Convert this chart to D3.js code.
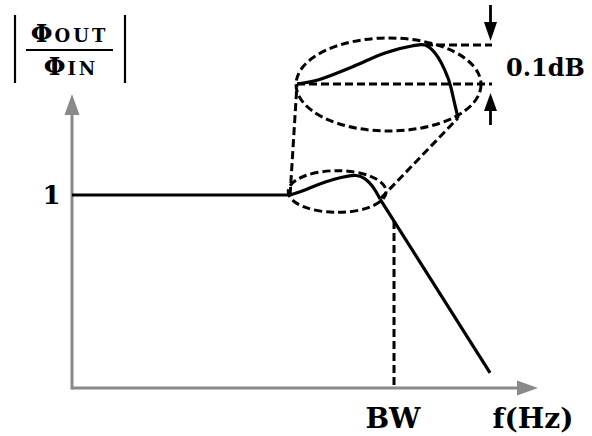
<!DOCTYPE html>
<html>
<head>
<meta charset="utf-8">
<script src="https://cdn.jsdelivr.net/npm/d3@7"></script>
<style>
  html, body { margin: 0; padding: 0; background: #fff; }
  svg { display: block; }
  text { font-family: "DejaVu Serif", serif; font-weight: bold; fill: #000; }
</style>
</head>
<body>
<svg id="chart" width="592" height="436"></svg>
<script>
// Magnitude response |Φout/Φin| of a low-pass system (normalised units)
const freq = [0, 4.70, 5.02, 5.34, 5.67, 5.95, 6.12, 6.29, 6.47, 6.64, 9.01];
const gain = [1.0, 1.0, 1.026, 1.057, 1.083, 1.098, 1.101, 1.088, 1.047, 0.979, 0.078];
const bumpStart = 1, bumpEnd = 9;   // passband ripple segment

// Magnified view of the ripple: position across the bump (0..1) and level in dB
const zoomPos = [0, 0.13, 0.342, 0.547, 0.714, 0.795, 0.857, 0.938, 0.981, 1.0];
const zoomDb  = [0, 0.0103, 0.0436, 0.0795, 0.0974, 0.1, 0.0795, 0.0154, -0.0538, -0.0872];
const zoomPeak = 5;

// Labels
const gainTick = 1;
const bwFreq = 6.94;
const rippleLabel = "0.1dB";

const svg = d3.select("#chart");
const ink = "#000";
const axisGrey = "#8a8a8a";

// Main scales
const x = d3.scaleLinear().domain([0, 10]).range([72, 536]);
const y = d3.scaleLinear().domain([0, 1.5]).range([388, 98.5]);
// Inset scales
const zx = d3.scaleLinear().domain([0, 1]).range([297, 458]);
const zy = d3.scaleLinear().domain([0, 0.1]).range([84, 45]);

const pts = freq.map((f, i) => [f, gain[i]]);
const zpts = zoomPos.map((p, i) => [p, zoomDb[i]]);

// Axes with arrow heads
const axes = svg.append("g");
axes.append("line").attr("x1", x(0)).attr("y1", y(0)).attr("x2", 520).attr("y2", y(0))
  .attr("stroke", axisGrey).attr("stroke-width", 3);
axes.append("line").attr("x1", x(0)).attr("y1", y(0) + 1.5).attr("x2", x(0)).attr("y2", 112)
  .attr("stroke", axisGrey).attr("stroke-width", 3);
axes.append("path").attr("d", `M538,${y(0)} L517,${y(0) - 7.5} L517,${y(0) + 7.5} Z`).attr("fill", axisGrey);
axes.append("path").attr("d", `M${x(0)},94 L${x(0) - 7.5},115 L${x(0) + 7.5},115 Z`).attr("fill", axisGrey);

const dashed = { stroke: ink, "stroke-width": 3, "stroke-dasharray": "8,4", fill: "none" };
function applyAttrs(sel, a) { Object.entries(a).forEach(([k, v]) => sel.attr(k, v)); return sel; }

// BW marker
const rollT = (bwFreq - freq[bumpEnd]) / (freq[10] - freq[bumpEnd]);
const bwGain = gain[bumpEnd] + rollT * (gain[10] - gain[bumpEnd]);
applyAttrs(svg.append("line"), dashed)
  .attr("x1", x(bwFreq)).attr("y1", y(bwGain)).attr("x2", x(bwFreq)).attr("y2", y(0) - 1.5);

// Ellipse around the ripple and its magnified copy
const smallE = { f: [4.66, 6.77], g: [0.910, 1.126] };
const bigE = { p: [-0.006, 1.143], d: [-0.1205, 0.118] };
applyAttrs(svg.append("ellipse"), dashed)
  .attr("cx", (x(smallE.f[0]) + x(smallE.f[1])) / 2)
  .attr("cy", (y(smallE.g[0]) + y(smallE.g[1])) / 2)
  .attr("rx", (x(smallE.f[1]) - x(smallE.f[0])) / 2)
  .attr("ry", (y(smallE.g[0]) - y(smallE.g[1])) / 2);
applyAttrs(svg.append("ellipse"), dashed)
  .attr("cx", (zx(bigE.p[0]) + zx(bigE.p[1])) / 2)
  .attr("cy", (zy(bigE.d[0]) + zy(bigE.d[1])) / 2)
  .attr("rx", (zx(bigE.p[1]) - zx(bigE.p[0])) / 2)
  .attr("ry", (zy(bigE.d[0]) - zy(bigE.d[1])) / 2);

// Connectors between the ripple and the inset
applyAttrs(svg.append("line"), dashed)
  .attr("x1", x(freq[bumpStart])).attr("y1", y(gain[bumpStart]))
  .attr("x2", zx(zoomPos[0])).attr("y2", zy(zoomDb[0]));
applyAttrs(svg.append("line"), dashed)
  .attr("x1", x(freq[bumpEnd]) + 1).attr("y1", y(gain[bumpEnd]) - 1)
  .attr("x2", zx(zoomPos[zoomPos.length - 1])).attr("y2", zy(zoomDb[zoomDb.length - 1]));

// 0.1 dB reference lines
const refX = 492;
applyAttrs(svg.append("line"), dashed)
  .attr("x1", zx(zoomPos[0])).attr("y1", zy(0)).attr("x2", refX).attr("y2", zy(0));
applyAttrs(svg.append("line"), dashed)
  .attr("x1", zx(zoomPos[zoomPeak])).attr("y1", zy(0.1)).attr("x2", refX).attr("y2", zy(0.1));

// Dimension arrows
const ax = 490.5;
svg.append("line").attr("x1", ax).attr("y1", 5).attr("x2", ax).attr("y2", 26)
  .attr("stroke", ink).attr("stroke-width", 2.8);
svg.append("path").attr("d", `M${ax},${zy(0.1) - 4} L${ax - 6.5},${zy(0.1) - 23} L${ax + 6.5},${zy(0.1) - 23} Z`).attr("fill", ink);
svg.append("line").attr("x1", ax).attr("y1", 106).attr("x2", ax).attr("y2", 125)
  .attr("stroke", ink).attr("stroke-width", 2.8);
svg.append("path").attr("d", `M${ax},${zy(0) + 9} L${ax - 6.5},${zy(0) + 27} L${ax + 6.5},${zy(0) + 27} Z`).attr("fill", ink);

// Response curve: flat passband, smooth ripple, straight roll-off
const lineLin = d3.line().x(d => x(d[0])).y(d => y(d[1]));
const lineSmooth = d3.line().x(d => x(d[0])).y(d => y(d[1])).curve(d3.curveCatmullRom.alpha(0.5));
const curveStyle = { stroke: ink, "stroke-width": 3.2, fill: "none", "stroke-linejoin": "round" };
applyAttrs(svg.append("path"), curveStyle).attr("d", lineLin(pts.slice(0, bumpStart + 1)));
applyAttrs(svg.append("path"), curveStyle).attr("d", lineSmooth(pts.slice(bumpStart, bumpEnd + 1)));
applyAttrs(svg.append("path"), curveStyle).attr("d", lineLin(pts.slice(bumpEnd)));

// Magnified ripple
const zline = d3.line().x(d => zx(d[0])).y(d => zy(d[1])).curve(d3.curveCatmullRom.alpha(0.5));
applyAttrs(svg.append("path"), curveStyle).attr("d", zline(zpts));

// Text labels
svg.append("text").attr("x", 51.5).attr("y", y(gainTick) + 8.5).attr("text-anchor", "middle")
  .attr("font-size", 26).text(String(gainTick));
svg.append("text").attr("x", x(bwFreq) - 1).attr("y", 428).attr("text-anchor", "middle")
  .attr("font-size", 28).text("BW");
svg.append("text").attr("x", 533).attr("y", 428).attr("text-anchor", "middle")
  .attr("font-size", 28).text("f(Hz)");
svg.append("text").attr("x", 506).attr("y", 76).attr("font-size", 24).text(rippleLabel);

// |Φout / Φin| axis title
const title = svg.append("g");
title.append("line").attr("x1", 15).attr("y1", 15).attr("x2", 15).attr("y2", 83).attr("stroke", ink).attr("stroke-width", 2.2);
title.append("line").attr("x1", 125).attr("y1", 15).attr("x2", 125).attr("y2", 83).attr("stroke", ink).attr("stroke-width", 2.2);
title.append("line").attr("x1", 26).attr("y1", 50).attr("x2", 113).attr("y2", 50).attr("stroke", ink).attr("stroke-width", 2.2);
const num = title.append("text").attr("x", 69.5).attr("y", 42).attr("text-anchor", "middle");
num.append("tspan").attr("font-size", 25).text("Φ");
num.append("tspan").attr("font-size", 18).attr("letter-spacing", 3).attr("dx", 2).text("OUT");
const den = title.append("text").attr("x", 71).attr("y", 75).attr("text-anchor", "middle");
den.append("tspan").attr("font-size", 25).text("Φ");
den.append("tspan").attr("font-size", 18).attr("letter-spacing", 3).attr("dx", 2).text("IN");
</script>
</body>
</html>
